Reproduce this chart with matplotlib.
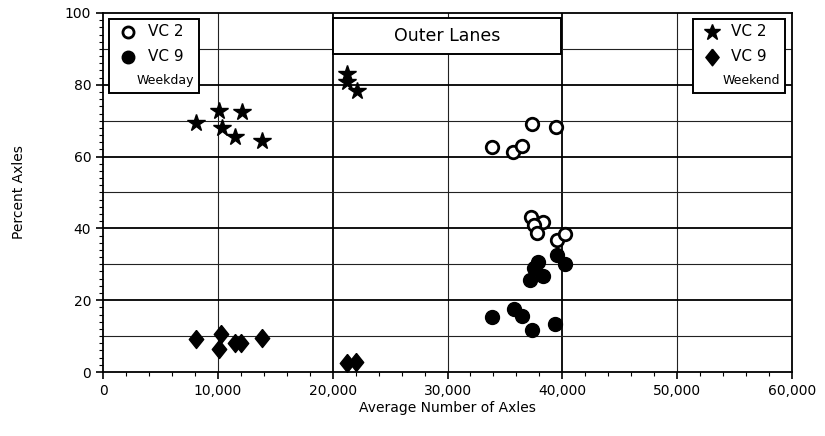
import matplotlib
matplotlib.use("Agg")
import matplotlib.pyplot as plt
from matplotlib.patches import Rectangle
from matplotlib.ticker import MultipleLocator, FuncFormatter

# weekday, VC 2 (open circles)
wd_vc2_x = [33900, 35700, 36500, 37350, 39450, 37250, 38350, 37500, 37800, 39500, 40250]
wd_vc2_y = [62.8, 61.4, 63.0, 69.1, 68.2, 43.3, 41.9, 40.9, 38.6, 36.8, 38.4]
# weekday, VC 9 (filled circles)
wd_vc9_x = [33900, 35750, 36450, 37350, 39350, 37850, 37500, 37200, 38350, 39550, 40250]
wd_vc9_y = [15.4, 17.5, 15.6, 11.7, 13.3, 30.7, 28.9, 25.6, 26.7, 32.6, 30.1]
# weekend, VC 2 (stars)
we_vc2_x = [8100, 10130, 12080, 10340, 11500, 13880, 21280, 21230, 22080]
we_vc2_y = [69.4, 72.7, 72.3, 68.0, 65.4, 64.4, 83.0, 80.9, 78.3]
# weekend, VC 9 (diamonds)
we_vc9_x = [8100, 10280, 10130, 11500, 12020, 13880, 21280, 22040]
we_vc9_y = [9.1, 10.5, 6.4, 8.2, 8.2, 9.4, 2.4, 2.7]

FONT = "DejaVu Sans"
plt.rcParams["font.family"] = FONT
DIAMOND = [(0, 1), (0.8, 0), (0, -1), (-0.8, 0), (0, 1)]

fig = plt.figure(figsize=(8.25, 4.36), dpi=100)
ax = fig.add_axes([103/825, 1-372/436, 689/825, 359/436])
ax.set_xlim(0, 60000); ax.set_ylim(0, 100)

# grid: heavy every 20 / 20,000, lighter in between
for v in range(10000, 60000, 10000):
    heavy = v % 20000 == 0
    ax.axvline(v, color="black" if heavy else "#222222", lw=1.3 if heavy else 0.8, zorder=1)
for v in range(10, 100, 10):
    heavy = v % 20 == 0
    ax.axhline(v, color="black" if heavy else "#222222", lw=1.3 if heavy else 0.8, zorder=1)

ax.plot(wd_vc2_x, wd_vc2_y, "o", mfc="white", mec="black", mew=2.0, ms=9, ls="none", zorder=3)
ax.plot(wd_vc9_x, wd_vc9_y, "o", mfc="black", mec="black", ms=10, ls="none", zorder=3)
ax.plot(we_vc2_x, we_vc2_y, "*", color="black", ms=13, ls="none", zorder=3)
ax.plot(we_vc9_x, we_vc9_y, marker=DIAMOND, color="black", ms=13, ls="none", zorder=3)

ax.xaxis.set_major_locator(MultipleLocator(10000))
ax.xaxis.set_minor_locator(MultipleLocator(2000))
ax.yaxis.set_major_locator(MultipleLocator(20))
ax.yaxis.set_minor_locator(MultipleLocator(2))
ax.xaxis.set_major_formatter(FuncFormatter(lambda v, p: f"{int(v):,}"))
ax.tick_params(which="major", length=5, width=1.2, labelsize=10, direction="out")
ax.tick_params(which="minor", length=3, width=0.8, direction="out")
for s in ax.spines.values():
    s.set_linewidth(1.3)

ax.set_xlabel("Average Number of Axles", fontsize=10, labelpad=2)
ax.set_ylabel("Percent Axles", fontsize=10, labelpad=28)

# title box
ax.add_patch(Rectangle((0.334, 0.886), 0.331, 0.100, transform=ax.transAxes,
                       fc="white", ec="black", lw=1.4, zorder=5))
ax.text(0.4995, 0.936, "Outer Lanes", transform=ax.transAxes, ha="center", va="center",
        fontsize=12.5, zorder=6)

def legend_box(x0, x1, mk1, mk2, tag):
    ax.add_patch(Rectangle((x0, 0.777), x1 - x0, 0.206, transform=ax.transAxes,
                           fc="white", ec="black", lw=1.4, zorder=5))
    mx = x0 + 0.028
    ax.plot([mx], [0.948], transform=ax.transAxes, clip_on=False, zorder=6, ls="none", **mk1)
    ax.plot([mx], [0.878], transform=ax.transAxes, clip_on=False, zorder=6, ls="none", **mk2)
    ax.text(mx + 0.028, 0.948, "VC 2", transform=ax.transAxes, va="center", fontsize=11, zorder=6)
    ax.text(mx + 0.028, 0.878, "VC 9", transform=ax.transAxes, va="center", fontsize=11, zorder=6)
    ax.text(x1 - 0.007, 0.813, tag, transform=ax.transAxes, va="center", ha="right",
            fontsize=9, zorder=6)

legend_box(0.009, 0.139,
           dict(marker="o", mfc="white", mec="black", mew=2.0, ms=8),
           dict(marker="o", mfc="black", mec="black", ms=9), "Weekday")
legend_box(0.856, 0.990,
           dict(marker="*", color="black", ms=12),
           dict(marker=DIAMOND, color="black", ms=12), "Weekend")

fig.savefig("out.png", dpi=100, facecolor="white")
